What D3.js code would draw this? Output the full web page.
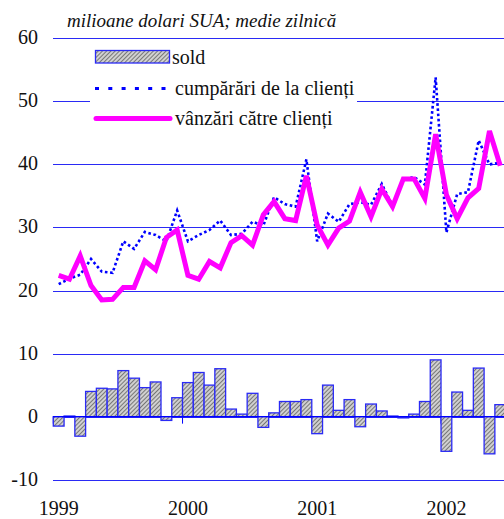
<!DOCTYPE html>
<html>
<head>
<meta charset="utf-8">
<style>
  body { margin: 0; background: #fff; }
</style>
</head>
<body>
<svg width="504" height="519"></svg>
<script src="https://d3js.org/d3.v7.min.js"></script>
<script>

// monthly data, Jan 1999 - Jun 2002
var years = ["1999", "2000", "2001", "2002"];
var yTicks = [-10, 0, 10, 20, 30, 40, 50, 60];

var sold = [
  -1.5, 0.1, -3.1, 4.0, 4.5, 4.4, 7.3, 6.1, 4.6, 5.5, -0.6, 3.0,
  5.4, 7.0, 5.0, 7.6, 1.2, 0.4, 3.7, -1.7, 0.6, 2.4, 2.4, 2.7,
  -2.7, 5.0, 1.0, 2.7, -1.6, 2.0, 0.9, 0.1, -0.2, 0.4, 2.4, 9.0,
  -5.5, 3.9, 1.0, 7.7, -5.9, 1.9
];

var cumparari = [
  21.0, 21.9, 22.5, 25.0, 23.0, 22.8, 27.8, 26.6, 29.3, 28.8, 27.8, 32.7,
  27.8, 28.8, 29.6, 31.1, 28.8, 29.0, 30.9, 30.3, 34.8, 33.7, 33.3, 40.8,
  27.8, 32.2, 30.9, 33.7, 34.0, 33.6, 36.9, 33.4, 37.6, 38.0, 36.8, 53.8,
  29.2, 35.3, 35.6, 43.8, 40.0, 40.3
];

var vanzari = [
  22.4, 21.8, 25.5, 20.8, 18.5, 18.6, 20.5, 20.5, 24.7, 23.3, 28.4, 29.6,
  22.4, 21.8, 24.6, 23.6, 27.6, 28.7, 27.2, 32.0, 34.1, 31.4, 31.1, 38.2,
  30.4, 27.2, 29.9, 31.0, 35.6, 31.7, 36.1, 33.3, 37.7, 37.7, 34.6, 44.8,
  35.2, 31.4, 34.7, 36.2, 45.3, 39.8
];

var FONT = "'Liberation Serif'";
var svg = d3.select("svg");

var x = d3.scaleLinear().domain([0, 42]).range([53.3, 53.3 + 42 * 10.77]);
var y = d3.scaleLinear().domain([-10, 60]).range([479.7, 38.3]);

// hatch pattern for the bars
var defs = svg.append("defs");
var pat = defs.append("pattern")
  .attr("id", "hatch")
  .attr("patternUnits", "userSpaceOnUse")
  .attr("width", 3).attr("height", 3)
  .attr("patternTransform", "rotate(45)");
pat.append("rect").attr("width", 3).attr("height", 3).attr("fill", "#d0d0d0");
pat.append("line").attr("x1", 0).attr("y1", 0).attr("x2", 0).attr("y2", 3)
  .attr("stroke", "#505050").attr("stroke-width", 1.4);

// grid lines
svg.append("g").selectAll("line").data(yTicks).enter().append("line")
  .attr("x1", 53).attr("x2", 504)
  .attr("y1", function (d) { return Math.round(y(d)) + 0.5; })
  .attr("y2", function (d) { return Math.round(y(d)) + 0.5; })
  .attr("stroke", "#2a2af5").attr("stroke-width", 1.2);

// y labels
svg.append("g").selectAll("text").data(yTicks).enter().append("text")
  .attr("x", 38)
  .attr("y", function (d) { return y(d) + 6; })
  .attr("text-anchor", "end")
  .attr("fill", "#111")
  .attr("font-family", FONT)
  .attr("font-size", 20)
  .text(function (d) { return d; });

// year ticks on the zero line
svg.append("g").selectAll("line").data(years).enter().append("line")
  .attr("x1", function (d, i) { return x(i * 12); })
  .attr("x2", function (d, i) { return x(i * 12); })
  .attr("y1", y(0)).attr("y2", y(0) + 7)
  .attr("stroke", "#0000ff").attr("stroke-width", 1);

// year labels
svg.append("g").selectAll("text").data(years).enter().append("text")
  .attr("x", function (d, i) { return x(i * 12 + 0.5); })
  .attr("y", 515)
  .attr("text-anchor", "middle")
  .attr("fill", "#111")
  .attr("font-family", FONT)
  .attr("font-size", 20)
  .text(function (d) { return d; });

// sold bars
svg.append("g").selectAll("rect").data(sold).enter().append("rect")
  .attr("x", function (d, i) { return x(i); })
  .attr("width", function (d, i) { return x(i + 1) - x(i); })
  .attr("y", function (d) { return y(Math.max(0, d)); })
  .attr("height", function (d) { return Math.abs(y(d) - y(0)); })
  .attr("fill", "url(#hatch)")
  .attr("stroke", "#2a2af5").attr("stroke-width", 1.3);

svg.append("line")
  .attr("x1", 53).attr("x2", 504)
  .attr("y1", y(0)).attr("y2", y(0))
  .attr("stroke", "#0000ff").attr("stroke-width", 1.3);

var line = d3.line()
  .x(function (d, i) { return x(i + 0.5); })
  .y(function (d) { return y(d); });

svg.append("path")
  .datum(cumparari)
  .attr("d", line)
  .attr("fill", "none")
  .attr("stroke", "#0000ff")
  .attr("stroke-width", 2.6)
  .attr("stroke-dasharray", "2.6,2.6");

svg.append("path")
  .datum(vanzari)
  .attr("d", line)
  .attr("fill", "none")
  .attr("stroke", "#ff00ff")
  .attr("stroke-width", 5)
  .attr("stroke-linejoin", "miter");

// title
svg.append("text")
  .attr("x", 67).attr("y", 27)
  .attr("fill", "#111")
  .attr("font-family", FONT)
  .attr("font-size", 19)
  .attr("font-style", "italic")
  .text("milioane dolari SUA; medie zilnică");

// legend
var legend = svg.append("g");
legend.append("rect")
  .attr("x", 90).attr("y", 44).attr("width", 267).attr("height", 90)
  .attr("fill", "#fff");
legend.append("rect")
  .attr("x", 95.5).attr("y", 50.5).attr("width", 74).attr("height", 12.5)
  .attr("fill", "url(#hatch)")
  .attr("stroke", "#2a2af5").attr("stroke-width", 1.3);
legend.append("line")
  .attr("x1", 95).attr("x2", 171).attr("y1", 88.5).attr("y2", 88.5)
  .attr("stroke", "#0000ff").attr("stroke-width", 3)
  .attr("stroke-dasharray", "4,9.3");
legend.append("line")
  .attr("x1", 96).attr("x2", 170).attr("y1", 118.5).attr("y2", 118.5)
  .attr("stroke", "#ff00ff").attr("stroke-width", 5)
  .attr("stroke-linecap", "round");

var legendKeys = ["sold", "cumpărări de la clienți", "vânzări către clienți"];
legend.selectAll(".lt").data(legendKeys).enter().append("text")
  .attr("class", "lt")
  .attr("x", function (d, i) { return i == 0 ? 172 : 175; })
  .attr("y", function (d, i) { return [64, 95, 125][i]; })
  .attr("fill", "#111")
  .attr("font-family", FONT)
  .attr("font-size", 20)
  .text(function (d) { return d; });

</script>
</body>
</html>
